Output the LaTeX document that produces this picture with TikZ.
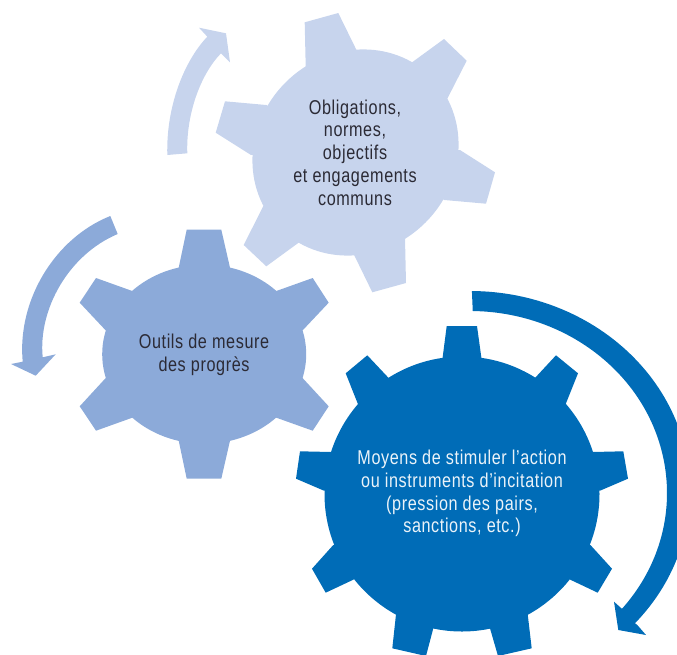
\documentclass[tikz,border=0pt]{standalone}
\usepackage{fontspec}
\setmainfont[FakeStretch=0.81,LetterSpace=3]{Liberation Sans}
\definecolor{gearlight}{HTML}{C7D4ED}
\definecolor{gearmid}{HTML}{8CAAD9}
\definecolor{geardark}{HTML}{006CB7}
\definecolor{inkdark}{HTML}{2B2A35}
\tikzset{
  geartext/.style={align=center,text=inkdark,inner sep=0pt,font=\fontsize{20}{22.7}\selectfont},
  geartextwhite/.style={geartext,text=white!92!geardark}
}
\begin{document}
\begin{tikzpicture}[x=1pt,y=-1pt]
\useasboundingbox (0,0) rectangle (677,654);
\clip (0,0) rectangle (677,654);
% light gear
\begin{scope}[fill=gearlight]
\coordinate (c1) at (355.5,152.5);
\fill[rotate around={45:(c1)}] (c1) ellipse[x radius=107,y radius=99];
\fill (c1) -- (305.7,66.7) -- (304.7,22.3) -- (338.3,13) -- (357.3,51.7) -- cycle;
\fill (c1) -- (410.7,63.3) -- (444,39) -- (466.7,60.7) -- (447.3,98.7) -- cycle;
\fill (c1) -- (460,150) -- (495,172.3) -- (486,203.7) -- (444.3,200) -- cycle;
\fill (c1) -- (405,238.3) -- (406,283) -- (372.3,292.3) -- (353.3,253.3) -- cycle;
\fill (c1) -- (300,241.7) -- (266.3,266.3) -- (243.7,245) -- (263.3,206) -- cycle;
\fill (c1) -- (251,155) -- (215.7,132.7) -- (225,101.3) -- (266.3,105) -- cycle;
\fill (167.3,155) .. controls (166,105) and (185,60) .. (207.3,36.7) -- (199,27.7) -- (226,33.3) -- (230,62.3) -- (221,53.3) .. controls (200,75) and (186,115) .. (187.3,153.3) -- cycle;
\end{scope}
% mid gear
\begin{scope}[fill=gearmid]
\coordinate (c2) at (204.2,354.2);
\fill (c2) ellipse[x radius=102,y radius=89.5];
\fill (c2) -- (178.7,267.7) -- (186.7,229.7) -- (221.3,229.7) -- (230,267.7) -- cycle;
\fill (c2) -- (276.3,291) -- (312.7,278) -- (328.7,302.7) -- (302.3,330.7) -- cycle;
\fill (c2) -- (302.3,377.7) -- (328.7,406.3) -- (312.7,430.7) -- (276.3,417.7) -- cycle;
\fill (c2) -- (230,440.7) -- (221.3,478.7) -- (186.7,478.7) -- (178.7,440.7) -- cycle;
\fill (c2) -- (132.3,417.7) -- (96,430.7) -- (79.7,406.3) -- (106,377.7) -- cycle;
\fill (c2) -- (106,330.7) -- (79.7,302.7) -- (96,278) -- (132.3,291) -- cycle;
\fill (110.3,216) .. controls (55,238) and (17,300) .. (22.7,361.7) -- (11,364) -- (35.7,375.7) -- (55.7,354.3) -- (42.7,357.3) .. controls (38,310) and (68,255) .. (117.7,234) -- cycle;
\end{scope}
% dark gear
\begin{scope}[fill=geardark]
\coordinate (c3) at (462,494);
\fill (c3) circle[radius=137.5];
\fill (c3) -- (442.3,360) -- (446.7,326) -- (477,326) -- (481.7,360) -- cycle;
\fill (c3) -- (534.3,378.7) -- (556,355.3) -- (578,373.3) -- (565.3,405) -- cycle;
\fill (c3) -- (592.7,452) -- (623.3,451.3) -- (628,478.7) -- (600,490.7) -- cycle;
\fill (c3) -- (590.7,545.3) -- (612,568.7) -- (597.7,592.7) -- (570.3,579.7) -- cycle;
\fill (c3) -- (527.7,614.3) -- (531.7,648.3) -- (498,656) -- (490,628.3) -- cycle;
\fill (c3) -- (433.3,628.3) -- (426,656) -- (392.3,648.3) -- (396,614.3) -- cycle;
\fill (c3) -- (353.3,579.7) -- (325.7,592.7) -- (312,568.7) -- (333,545.3) -- cycle;
\fill (c3) -- (324,490.7) -- (296,478.7) -- (300,451.3) -- (331,452) -- cycle;
\fill (c3) -- (358.3,405) -- (345.7,373.3) -- (367.3,355.3) -- (389.3,378.7) -- cycle;
\fill (471.9,291) arc[start angle=-89.5,end angle=41.4,x radius=220,y radius=200] -- (637.3,625) -- (646,635) -- (618.3,630) -- (614,601.7) -- (623.3,610) -- ({470+197*cos(39.6)},{493+182*sin(39.6)}) arc[start angle=39.6,end angle=-89.2,x radius=197,y radius=182] -- cycle;
\end{scope}
\node[geartext] (t1) at (355,152.5) {Obligations,\\normes,\\objectifs\\et engagements\\communs};
\node[geartext] (t2) at (204,354.5) {Outils de mesure\\des progrès};
\node[geartextwhite] (t3) at (462,493.5) {Moyens de stimuler l’action\\ou instruments d’incitation\\(pression des pairs,\\sanctions, etc.)};
\end{tikzpicture}
\end{document}
